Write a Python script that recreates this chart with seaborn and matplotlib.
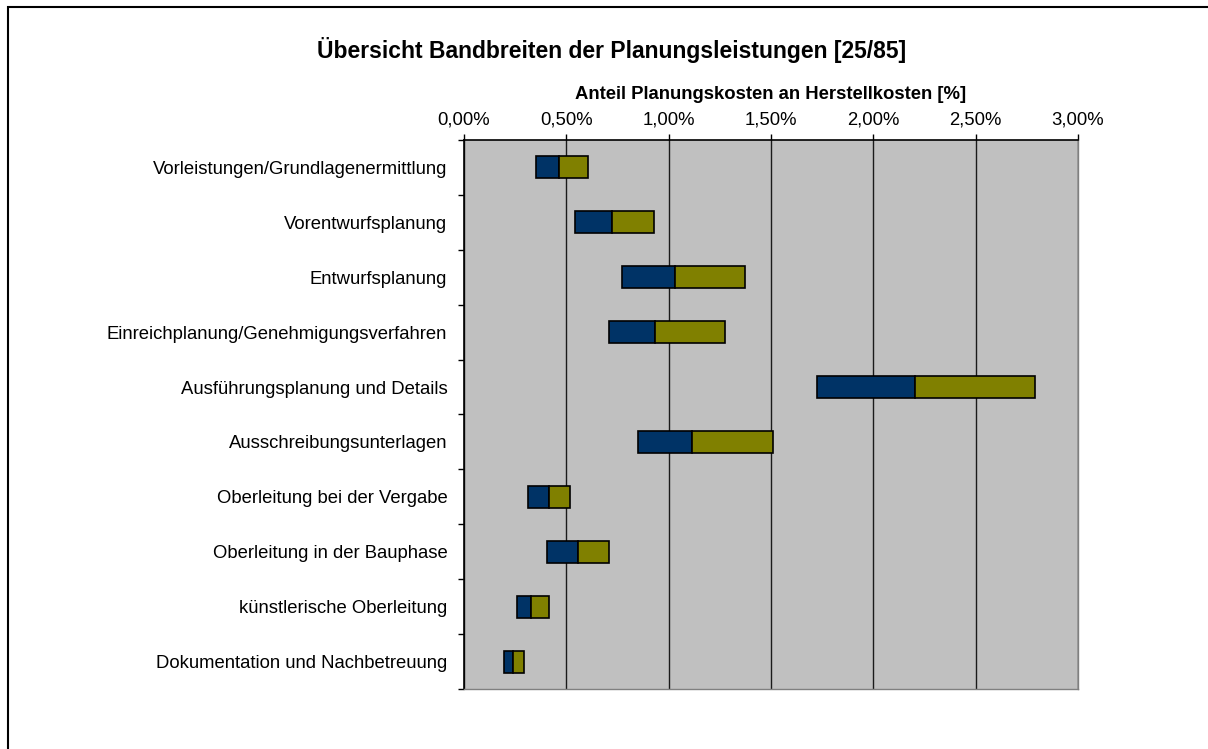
import numpy as np
import pandas as pd
import seaborn as sns
import matplotlib.pyplot as plt
from matplotlib.patches import Rectangle
from matplotlib.ticker import FuncFormatter, MultipleLocator, FixedLocator

# Planning phases and cost ranges (% of construction cost)
phases = [
    'Vorleistungen/Grundlagenermittlung',
    'Vorentwurfsplanung',
    'Entwurfsplanung',
    'Einreichplanung/Genehmigungsverfahren',
    'Ausführungsplanung und Details',
    'Ausschreibungsunterlagen',
    'Oberleitung bei der Vergabe',
    'Oberleitung in der Bauphase',
    'künstlerische Oberleitung',
    'Dokumentation und Nachbetreuung',
]
low = [0.35, 0.54, 0.77, 0.71, 1.725, 0.85, 0.315, 0.405, 0.26, 0.195]
mid = [0.465, 0.725, 1.03, 0.935, 2.205, 1.115, 0.415, 0.555, 0.325, 0.24]
high = [0.605, 0.93, 1.375, 1.275, 2.79, 1.51, 0.52, 0.71, 0.415, 0.295]

df = pd.DataFrame({'phase': phases, 'low': low, 'mid': mid, 'high': high})
df['lower_part'] = df['mid'] - df['low']
df['upper_part'] = df['high'] - df['mid']

sns.set_style('white')
plt.rcParams['font.family'] = ['Liberation Sans', 'DejaVu Sans']
plt.rcParams['text.color'] = 'black'
plt.rcParams['axes.labelcolor'] = 'black'

fig = plt.figure(figsize=(12.08, 7.49), dpi=100)
ax = fig.add_axes([464 / 1208, 1 - 689 / 749, 614 / 1208, 549 / 749])
ax.set_facecolor('#c0c0c0')

# floating stacked bars
sns.barplot(data=df, y='phase', x='lower_part', orient='h', color='#003366',
            saturation=1, width=0.4, errorbar=None, edgecolor='black',
            linewidth=1.2, left=df['low'].to_numpy(), ax=ax, zorder=3)
sns.barplot(data=df, y='phase', x='upper_part', orient='h', color='#808000',
            saturation=1, width=0.4, errorbar=None, edgecolor='black',
            linewidth=1.2, left=df['mid'].to_numpy(), ax=ax, zorder=3)

ax.set_xlim(0, 3)
ax.set_ylim(len(phases) - 0.5, -0.5)

# axis on top
ax.xaxis.tick_top()
ax.xaxis.set_label_position('top')
ax.xaxis.set_major_locator(MultipleLocator(0.5))
ax.xaxis.set_major_formatter(FuncFormatter(lambda v, p: f'{v:.2f}%'.replace('.', ',')))
ax.tick_params(axis='x', which='major', direction='out', length=4.5, width=1,
               color='black', pad=4, labelsize=13.3, labelcolor='black')
ax.set_xlabel('Anteil Planungskosten an Herstellkosten [%]', fontsize=13.3,
              fontweight='bold', labelpad=9)

# category ticks between bars
ax.yaxis.set_minor_locator(FixedLocator(np.arange(-0.5, len(phases), 1)))
ax.tick_params(axis='y', which='major', length=0, pad=12, labelsize=13.3,
               labelcolor='black')
ax.tick_params(axis='y', which='minor', direction='out', length=4.5, width=1,
               color='black', left=True)
ax.set_ylabel('')

ax.grid(axis='x', color='#1a1a1a', linewidth=1.0, zorder=1)
ax.grid(axis='y', visible=False)
ax.set_axisbelow(True)

for side in ['top', 'left']:
    ax.spines[side].set_color('black')
    ax.spines[side].set_linewidth(1.2)
for side in ['right', 'bottom']:
    ax.spines[side].set_visible(True)
    ax.spines[side].set_color('#808080')
    ax.spines[side].set_linewidth(1.0)

fig.text(612 / 1208, 1 - 50 / 749, 'Übersicht Bandbreiten der Planungsleistungen [25/85]',
         ha='center', va='center', fontsize=16.5, fontweight='bold', color='black')

# chart frame
fig.add_artist(Rectangle((8 / 1208, -0.1), 1.2, 1.1 - 7 / 749, transform=fig.transFigure,
                         fill=False, edgecolor='black', linewidth=1.5))

plt.savefig('out.png', dpi=100)
